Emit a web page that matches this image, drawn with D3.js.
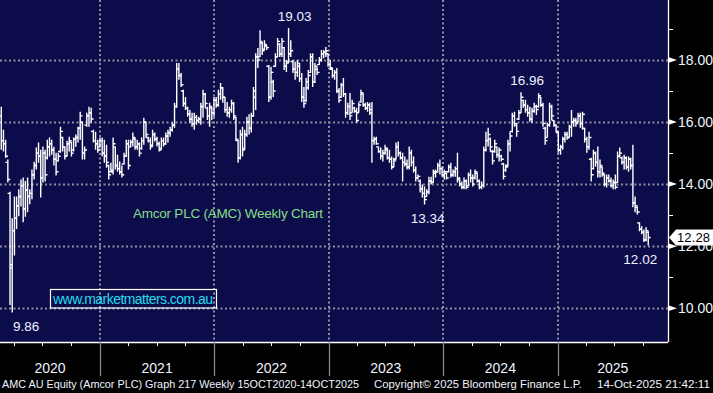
<!DOCTYPE html>
<html>
<head>
<meta charset="utf-8">
<script src="https://cdn.jsdelivr.net/npm/d3@7"></script>
<style>
  body { margin: 0; background: #000; }
  svg { display: block; }
  text { font-family: "Liberation Sans", Arial, sans-serif; }
</style>
</head>
<body>
<div id="chart"></div>
<script>
// weekly bars, first one is the week ending 21 Feb 2020
const firstWeek = new Date(2020, 1, 21);

const opens = [
  16.20,15.40,15.30,14.70,13.70,11.30,12.50,12.90,13.30,13.60,
  13.95,13.20,13.80,13.60,13.70,14.30,14.60,15.00,14.90,14.20,
  15.00,14.85,15.20,15.30,15.10,14.80,14.75,15.05,15.50,15.20,
  14.90,15.30,15.35,15.10,15.45,15.50,15.80,16.00,15.00,15.90,
  16.20,16.30,15.70,15.40,15.30,15.20,15.40,15.00,14.90,14.60,
  14.40,14.40,15.20,14.60,14.50,14.40,14.65,14.90,15.30,15.20,
  15.35,15.45,15.20,15.30,15.15,15.40,16.00,15.50,15.40,15.25,
  15.60,15.45,15.30,15.15,15.40,15.30,15.55,15.65,15.75,15.90,
  16.50,17.70,17.50,17.00,16.60,16.45,16.25,16.10,15.95,16.15,
  16.05,16.10,16.50,16.90,16.45,16.20,16.45,16.30,16.70,16.55,
  16.90,17.10,16.80,16.40,16.30,16.40,16.60,16.15,15.40,14.85,
  15.60,15.15,15.60,16.00,15.80,16.20,16.80,18.10,18.10,18.55,
  18.35,18.45,17.80,16.80,17.30,17.80,18.10,18.50,18.20,18.40,
  17.80,17.95,18.20,17.95,17.70,17.60,17.80,17.40,16.80,16.70,
  17.10,17.60,18.10,17.30,17.70,17.85,18.00,18.20,18.25,18.20,
  17.85,17.70,17.50,17.60,17.00,16.80,17.20,16.90,16.30,16.50,
  16.30,16.45,16.35,16.30,16.65,16.90,16.55,16.45,16.55,16.40,
  15.40,15.45,15.20,15.05,14.90,15.00,15.10,14.85,14.80,14.55,
  14.80,15.20,15.00,14.85,14.70,14.65,14.55,15.00,14.70,14.45,
  14.20,14.10,13.85,13.70,13.60,13.75,14.10,14.05,14.35,14.40,
  14.60,14.50,14.30,14.35,14.40,14.55,14.30,14.40,14.50,14.15,
  14.00,13.90,14.10,13.95,14.30,14.20,14.20,14.35,14.10,13.90,
  13.95,15.10,15.40,15.45,15.05,15.05,15.20,14.95,14.90,14.65,
  14.45,14.60,15.30,15.70,16.20,15.90,16.10,16.30,16.70,16.55,
  16.40,16.30,16.10,16.35,16.50,16.50,16.80,16.55,15.80,15.50,
  15.90,16.50,16.05,15.90,15.65,15.10,15.20,15.45,15.60,15.50,
  15.85,16.00,16.05,16.00,16.20,15.95,15.80,15.45,15.20,14.80,
  14.50,15.00,14.70,14.40,14.55,14.30,14.00,14.20,14.10,13.95,
  14.05,14.05,14.90,14.85,14.70,14.85,14.55,14.80,14.60,13.40,
  13.25,12.75,12.55,12.45,12.20,12.45
];

const highs = [
  16.49,15.75,15.43,14.79,13.75,12.90,13.60,13.60,13.83,14.15,
  14.21,14.10,14.21,13.83,14.47,14.72,15.18,15.34,15.11,15.21,
  15.11,15.43,15.50,15.43,15.20,15.01,15.01,15.85,15.53,15.21,
  15.40,15.53,15.37,15.50,15.60,15.85,16.33,16.01,15.21,16.30,
  16.49,16.46,15.75,15.69,15.43,15.50,15.50,15.43,15.27,14.63,
  14.69,15.50,15.21,14.95,14.73,14.60,15.01,15.43,15.43,15.43,
  15.66,15.50,15.43,15.34,15.50,16.14,16.01,15.53,15.50,15.75,
  15.66,15.53,15.37,15.50,15.50,15.66,15.75,15.85,15.98,16.62,
  17.90,17.90,17.58,17.04,16.81,16.49,16.39,16.30,16.30,16.23,
  16.17,16.62,17.04,16.94,16.49,16.62,16.49,16.81,16.81,17.04,
  17.26,17.13,16.81,16.65,16.49,16.72,16.65,16.17,15.43,15.75,
  15.85,15.75,16.17,16.25,16.30,17.13,18.22,18.39,18.96,18.58,
  18.64,18.48,17.84,17.78,17.36,18.22,18.71,18.55,18.71,18.42,
  18.00,19.03,18.64,18.00,17.94,18.00,17.90,17.58,17.13,17.42,
  17.68,18.22,18.22,17.90,17.78,18.10,18.32,18.32,18.42,18.22,
  18.00,17.74,17.68,17.74,17.10,17.26,17.42,16.94,16.62,16.94,
  16.72,16.49,16.46,16.62,17.04,16.94,16.62,16.65,16.62,16.65,
  15.53,15.53,15.21,15.18,15.11,15.27,15.18,15.11,14.89,14.85,
  15.34,15.37,15.05,15.01,14.89,14.79,15.21,15.11,14.89,14.57,
  14.31,14.15,13.99,13.92,13.83,14.24,14.24,14.47,14.47,14.69,
  14.79,14.57,14.47,14.37,14.63,14.69,14.47,14.57,15.01,14.21,
  14.08,14.21,14.15,14.37,14.47,14.31,14.47,14.37,14.15,14.08,
  15.21,15.69,15.82,15.50,15.11,15.43,15.21,15.18,14.95,14.69,
  14.63,15.43,15.69,16.30,16.33,15.98,16.39,16.96,16.72,16.72,
  16.56,16.49,16.46,16.62,16.56,16.93,16.81,16.62,15.85,15.98,
  16.62,16.56,16.07,15.91,15.69,15.27,15.53,15.69,15.69,15.91,
  16.39,16.14,16.14,16.30,16.30,16.33,15.82,15.53,15.69,14.85,
  15.11,15.05,15.21,14.79,14.57,14.31,14.31,14.31,14.21,14.15,
  14.31,15.05,15.18,14.89,14.95,14.89,14.89,14.85,15.27,13.60,
  13.28,12.77,12.64,12.54,12.61,12.48
];

const lows = [
  15.11,15.05,14.85,14.05,10.10,9.86,11.70,12.55,12.96,13.28,
  12.77,12.95,13.09,13.35,13.51,14.15,14.47,14.69,13.57,14.05,
  14.08,14.79,14.89,14.95,14.60,14.28,14.73,15.01,15.05,14.79,
  14.90,15.05,14.89,15.05,15.20,15.34,15.43,14.79,14.79,15.85,
  15.85,15.98,15.34,15.11,15.01,15.18,14.90,14.69,14.53,14.15,
  14.37,14.31,14.47,14.40,14.31,14.21,14.63,14.89,14.47,15.18,
  15.21,15.11,15.11,14.89,15.11,15.27,15.50,15.34,15.11,15.21,
  15.37,15.21,15.05,15.11,15.21,15.27,15.34,15.53,15.69,15.82,
  16.46,17.36,17.13,16.49,16.39,16.17,15.98,15.85,15.75,15.91,
  15.98,15.91,16.14,16.46,16.07,15.85,16.07,16.17,16.46,16.49,
  16.72,16.62,16.30,16.17,16.14,16.30,16.07,15.40,14.69,14.79,
  14.89,15.11,15.53,15.60,15.66,16.17,16.39,17.74,18.10,18.16,
  18.32,18.32,16.65,16.72,16.81,17.78,18.10,18.10,18.10,17.68,
  17.61,17.90,18.10,17.58,17.36,17.45,17.29,16.65,16.46,16.65,
  17.04,17.58,17.13,17.26,17.52,17.84,17.94,18.06,18.10,17.78,
  17.68,17.42,17.36,16.94,16.62,16.78,16.81,16.14,16.23,16.07,
  16.30,16.30,15.98,16.30,16.62,16.49,16.39,16.33,16.23,14.69,
  15.27,15.27,15.01,14.79,14.73,14.95,14.79,14.69,14.47,14.55,
  14.79,14.89,14.79,14.08,14.57,14.47,14.47,14.57,14.37,14.08,
  14.15,13.73,13.57,13.34,13.60,13.67,13.99,14.05,14.21,14.37,
  14.31,14.24,14.15,14.15,14.37,14.21,14.24,14.24,14.05,13.92,
  13.83,13.83,13.83,13.92,14.05,13.92,14.15,14.05,13.83,13.83,
  13.89,15.05,15.21,15.05,14.63,15.01,14.85,14.73,14.73,14.15,
  14.40,14.57,15.05,15.66,15.85,15.53,16.07,16.30,16.46,16.30,
  16.17,16.01,15.98,16.30,16.23,16.46,16.49,15.85,15.27,15.50,
  15.85,16.07,15.85,15.66,15.01,14.95,15.11,15.34,15.43,15.50,
  15.53,15.85,15.85,15.98,15.82,15.75,15.34,15.01,15.11,14.08,
  14.47,14.57,14.21,14.21,14.24,13.92,13.89,14.05,13.89,13.83,
  13.83,14.05,14.89,14.63,14.47,14.47,14.40,14.47,13.25,13.09,
  13.02,12.48,12.38,12.13,12.16,12.02
];

const closes = [
  15.40,15.30,14.90,14.15,11.40,12.50,12.90,13.30,13.60,13.95,
  13.20,13.80,13.60,13.70,14.30,14.60,15.00,14.90,14.20,15.00,
  14.30,15.20,15.30,15.10,14.80,14.40,14.90,15.70,15.20,14.90,
  15.30,15.40,15.00,15.45,15.50,15.80,16.20,15.00,15.10,16.20,
  16.30,16.10,15.40,15.30,15.10,15.40,15.00,14.90,14.70,14.30,
  14.45,15.30,14.60,14.50,14.40,14.30,14.90,15.30,14.60,15.35,
  15.50,15.20,15.30,15.00,15.40,16.00,15.60,15.40,15.20,15.60,
  15.45,15.30,15.10,15.40,15.30,15.55,15.65,15.75,15.90,16.50,
  17.70,17.50,17.20,16.60,16.45,16.25,16.10,15.95,16.15,16.05,
  16.10,16.50,16.90,16.60,16.20,16.50,16.30,16.70,16.55,16.90,
  17.10,16.80,16.40,16.30,16.40,16.60,16.20,15.45,14.85,15.60,
  15.10,15.60,16.00,15.80,16.20,17.00,18.10,18.00,18.60,18.30,
  18.50,18.40,16.80,17.60,17.00,18.10,18.60,18.20,18.60,17.80,
  17.90,18.20,18.30,17.70,17.60,17.90,17.40,16.80,16.60,17.30,
  17.50,18.10,17.30,17.80,17.60,18.00,18.20,18.25,18.30,17.85,
  17.75,17.50,17.60,17.00,16.70,17.20,16.90,16.30,16.50,16.20,
  16.60,16.35,16.05,16.55,16.95,16.55,16.45,16.55,16.30,15.40,
  15.45,15.30,15.05,14.90,15.00,15.15,14.85,14.80,14.55,14.75,
  15.20,15.00,14.85,14.70,14.65,14.55,15.00,14.70,14.45,14.20,
  14.25,13.85,13.70,13.50,13.75,14.10,14.05,14.40,14.40,14.60,
  14.50,14.30,14.40,14.20,14.55,14.30,14.40,14.50,14.20,14.00,
  13.90,14.10,13.90,14.30,14.20,14.00,14.40,14.10,13.90,13.95,
  15.10,15.40,15.60,15.20,14.75,15.30,14.95,15.10,14.80,14.25,
  14.55,15.30,15.55,16.20,15.95,15.70,16.30,16.80,16.55,16.40,
  16.30,16.10,16.35,16.50,16.40,16.85,16.55,15.95,15.40,15.90,
  16.50,16.20,15.90,15.70,15.10,15.20,15.45,15.60,15.50,15.85,
  16.00,16.05,15.95,16.20,15.95,16.25,15.45,15.20,15.50,14.30,
  15.00,14.70,14.40,14.60,14.35,14.00,14.20,14.10,13.95,14.05,
  13.90,14.90,15.00,14.70,14.85,14.55,14.80,14.60,13.40,13.30,
  13.10,12.55,12.45,12.20,12.50,12.28
];

const yMajor = [10, 12, 14, 16, 18];
const yMinor = [11, 13, 15, 17, 19];
const years = [2020, 2021, 2022, 2023, 2024, 2025];

// bars whose high / low Bloomberg tags with a number
const tagHigh = [131, 237];
const tagLow = [5, 193, 295];

const width = 713;
const height = 393;
const plotW = 668;
const plotH = 342;

const svg = d3.select("#chart")
  .append("svg")
  .attr("width", width)
  .attr("height", height);

svg.append("rect")
  .attr("width", width).attr("height", height)
  .attr("fill", "#000");

svg.append("rect")
  .attr("width", plotW).attr("height", plotH)
  .attr("fill", "#0d0c4b");

const x = d3.scaleTime()
  .domain([new Date(2020, 1, 17), new Date(2025, 11, 19)])
  .range([0, plotW]);

const y = d3.scaleLinear()
  .domain([10, 18])
  .range([308.2, 60]);

const weekDate = i => d3.timeDay.offset(firstWeek, 7 * i);

// dotted grid
const gridColor = "#8f8fa0";
svg.append("g")
  .selectAll("line")
  .data(yMajor)
  .join("line")
    .attr("x1", 0).attr("x2", plotW)
    .attr("y1", d => Math.round(y(d)) + 0.5)
    .attr("y2", d => Math.round(y(d)) + 0.5)
    .attr("stroke", gridColor)
    .attr("stroke-width", 2)
    .attr("stroke-dasharray", "2,2.5");

const yearStarts = years.slice(1).map(yr => new Date(yr, 0, 1));
svg.append("g")
  .selectAll("line")
  .data(yearStarts)
  .join("line")
    .attr("x1", d => Math.round(x(d)))
    .attr("x2", d => Math.round(x(d)))
    .attr("y1", 0).attr("y2", plotH)
    .attr("stroke", gridColor)
    .attr("stroke-width", 2)
    .attr("stroke-dasharray", "2,2.5");

// OHLC bars
const bars = svg.append("g")
  .attr("stroke", "#fff")
  .attr("stroke-width", 1.4)
  .attr("fill", "none");

bars.selectAll("path")
  .data(d3.range(closes.length))
  .join("path")
    .attr("d", i => {
      const bx = x(weekDate(i));
      return "M" + bx + "," + y(highs[i]) + "V" + y(lows[i]) +
        "M" + (bx - 2.4) + "," + y(opens[i]) + "H" + bx +
        "M" + bx + "," + y(closes[i]) + "H" + (bx + 2.4);
    });

// high / low tags
const labelColor = "#eef3ff";
const fmt = d3.format(".2f");
svg.append("g")
  .selectAll("text")
  .data(tagHigh)
  .join("text")
    .attr("x", i => x(weekDate(i)) + 6)
    .attr("y", i => y(highs[i]) - 7)
    .attr("text-anchor", "middle")
    .attr("font-size", 13.5)
    .attr("fill", labelColor)
    .text(i => fmt(highs[i]));

const lowDx = {5: 14, 193: 3, 295: -8};
svg.append("g")
  .selectAll("text")
  .data(tagLow)
  .join("text")
    .attr("x", i => x(weekDate(i)) + lowDx[i])
    .attr("y", i => y(lows[i]) + 18)
    .attr("text-anchor", "middle")
    .attr("font-size", 13.5)
    .attr("fill", labelColor)
    .text(i => fmt(lows[i]));

// captions
svg.append("text")
  .attr("x", 133).attr("y", 218)
  .attr("font-size", 13.5)
  .attr("fill", "#86de86")
  .attr("textLength", 190)
  .text("Amcor PLC (AMC) Weekly Chart");

svg.append("rect")
  .attr("x", 50.5).attr("y", 289.5)
  .attr("width", 166).attr("height", 18.5)
  .attr("fill", "none")
  .attr("stroke", "#fff")
  .attr("stroke-width", 1.2);

svg.append("text")
  .attr("x", 53).attr("y", 304)
  .attr("font-size", 14)
  .attr("fill", "#22dbea")
  .attr("textLength", 160)
  .text("www.marketmatters.com.au");

// right axis
const axisG = svg.append("g");
axisG.append("line")
  .attr("x1", plotW + 0.5).attr("x2", plotW + 0.5)
  .attr("y1", 0).attr("y2", plotH)
  .attr("stroke", "#fff").attr("stroke-width", 1.3);

axisG.selectAll(".minor")
  .data(yMinor)
  .join("line")
    .attr("class", "minor")
    .attr("x1", plotW).attr("x2", plotW + 5)
    .attr("y1", d => Math.round(y(d)) + 0.5)
    .attr("y2", d => Math.round(y(d)) + 0.5)
    .attr("stroke", "#fff");

axisG.selectAll(".arrow")
  .data(yMajor)
  .join("path")
    .attr("class", "arrow")
    .attr("d", d => {
      const ty = y(d);
      return "M" + plotW + "," + (ty - 3) + "L" + (plotW + 9) + "," + ty + "L" + plotW + "," + (ty + 3) + "Z";
    })
    .attr("fill", "#fff");

// the 12.00 label sits under the last-price tag, as in the Bloomberg frame
axisG.selectAll(".lbl")
  .data(yMajor)
  .join("text")
    .attr("class", "lbl")
    .attr("x", 678)
    .attr("y", d => y(d) + 5)
    .attr("font-size", 14)
    .attr("fill", labelColor)
    .text(d => fmt(d));

// last price tag
const last = closes[closes.length - 1];
const ly = y(last);
svg.append("path")
  .attr("d", "M669," + ly + "L676," + (ly - 8) + "H713V" + (ly + 8) + "H676Z")
  .attr("fill", "#fff");
svg.append("text")
  .attr("x", 677).attr("y", ly + 4.5)
  .attr("font-size", 13)
  .attr("fill", "#000")
  .attr("textLength", 33)
  .text(fmt(last));

// bottom time axis
svg.append("line")
  .attr("x1", 0).attr("x2", plotW)
  .attr("y1", plotH + 0.5).attr("y2", plotH + 0.5)
  .attr("stroke", "#fff").attr("stroke-width", 1.3);

const quarters = d3.timeMonth.every(3)
  .range(x.domain()[0], x.domain()[1])
  .filter(d => d.getMonth() !== 0);
svg.append("g")
  .selectAll("line")
  .data(quarters)
  .join("line")
    .attr("x1", d => Math.round(x(d)) + 0.5)
    .attr("x2", d => Math.round(x(d)) + 0.5)
    .attr("y1", plotH).attr("y2", plotH + 4)
    .attr("stroke", "#fff");

svg.append("g")
  .selectAll("line")
  .data(yearStarts)
  .join("line")
    .attr("x1", d => Math.round(x(d)) + 0.5)
    .attr("x2", d => Math.round(x(d)) + 0.5)
    .attr("y1", plotH).attr("y2", 376)
    .attr("stroke", "#8a8a8a").attr("stroke-width", 1.2);

svg.append("g")
  .selectAll("text")
  .data(years)
  .join("text")
    .attr("x", yr => {
      const a = Math.max(0, x(new Date(yr, 0, 1)));
      const b = Math.min(plotW, x(new Date(yr + 1, 0, 1)));
      return (a + b) / 2;
    })
    .attr("y", 373)
    .attr("text-anchor", "middle")
    .attr("font-size", 14)
    .attr("fill", labelColor)
    .text(yr => yr);

// footer
const foot = [
  {x: 2, w: 357, t: "AMC AU Equity (Amcor PLC) Graph 217 Weekly 15OCT2020-14OCT2025"},
  {x: 374, w: 208, t: "Copyright\u00a9 2025 Bloomberg Finance L.P."},
  {x: 597, w: 113, t: "14-Oct-2025 21:42:11"}
];
svg.append("g")
  .selectAll("text")
  .data(foot)
  .join("text")
    .attr("x", d => d.x)
    .attr("y", 388)
    .attr("font-family", "DejaVu Sans, sans-serif")
    .attr("font-size", 11)
    .attr("fill", "#eef3ff")
    .attr("textLength", d => d.w)
    .attr("lengthAdjust", "spacingAndGlyphs")
    .text(d => d.t);
</script>
</body>
</html>
